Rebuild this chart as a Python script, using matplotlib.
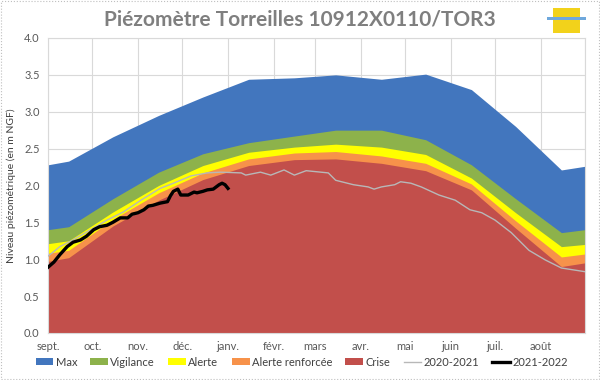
import matplotlib
matplotlib.use("Agg")
import matplotlib.pyplot as plt
from matplotlib.patches import Patch, Rectangle
from matplotlib.lines import Line2D
import pandas as pd

# ---------------- data ----------------
band_dates = ['2021-09-01', '2021-09-15', '2021-10-15', '2021-11-15', '2021-12-15',
              '2022-01-15', '2022-02-15', '2022-03-15', '2022-04-15', '2022-05-15',
              '2022-06-15', '2022-07-15', '2022-08-15', '2022-08-31']
max_vals = [2.28, 2.33, 2.66, 2.95, 3.20, 3.44, 3.46, 3.50, 3.44, 3.51, 3.30, 2.80, 2.21, 2.26]
vigilance = [1.40, 1.44, 1.82, 2.18, 2.43, 2.58, 2.67, 2.75, 2.75, 2.62, 2.28, 1.82, 1.36, 1.40]
alerte = [1.21, 1.25, 1.64, 2.00, 2.27, 2.45, 2.52, 2.56, 2.52, 2.42, 2.10, 1.63, 1.17, 1.20]
alerte_renf = [1.08, 1.12, 1.54, 1.90, 2.17, 2.36, 2.44, 2.46, 2.40, 2.30, 2.02, 1.52, 1.03, 1.07]
crise = [0.97, 1.02, 1.45, 1.80, 2.08, 2.27, 2.35, 2.36, 2.30, 2.20, 1.94, 1.42, 0.90, 0.95]

# 2020-2021 series: (day of hydrological year, level)
gray_days = [0, 5, 8, 17, 29, 40, 51, 63, 76, 85, 97, 108, 117, 131, 134, 144, 151, 160,
             167, 175, 190, 195, 207, 217, 221, 226, 235, 239, 246, 253, 265, 276, 286,
             294, 303, 314, 326, 337, 348, 364]
gray_vals = [1.04, 1.12, 1.17, 1.26, 1.40, 1.53, 1.64, 1.80, 1.96, 2.03, 2.13, 2.17, 2.18,
             2.17, 2.14, 2.18, 2.14, 2.21, 2.14, 2.20, 2.17, 2.07, 2.01, 1.98, 1.95, 1.98,
             2.01, 2.05, 2.03, 1.98, 1.87, 1.80, 1.67, 1.63, 1.53, 1.36, 1.12, 0.99, 0.88, 0.83]

# 2021-2022 series
black_days = [0, 4, 8, 13, 17, 22, 26, 31, 35, 40, 44, 49, 54, 57, 61, 65, 68, 71, 76, 81,
              83, 85, 88, 90, 95, 99, 101, 105, 108, 112, 116, 118, 120, 122]
black_vals = [0.89, 0.96, 1.06, 1.17, 1.23, 1.26, 1.31, 1.40, 1.44, 1.46, 1.50, 1.56, 1.56,
              1.61, 1.63, 1.67, 1.72, 1.73, 1.76, 1.78, 1.86, 1.92, 1.95, 1.87, 1.87, 1.91,
              1.90, 1.92, 1.94, 1.95, 2.01, 2.03, 2.01, 1.96]

month_labels = ['sept.', 'oct.', 'nov.', 'déc.', 'janv.', 'févr.', 'mars', 'avr.',
                'mai', 'juin', 'juil.', 'août']
month_starts = ['2021-09-01', '2021-10-01', '2021-11-01', '2021-12-01', '2022-01-01',
                '2022-02-01', '2022-03-01', '2022-04-01', '2022-05-01', '2022-06-01',
                '2022-07-01', '2022-08-01']

title = 'Piézomètre Torreilles 10912X0110/TOR3'
ylabel = 'Niveau piézométrique (en m NGF)'

# ---------------- plotting ----------------
origin = pd.Timestamp('2021-09-01')
bx = [(pd.Timestamp(d) - origin).days for d in band_dates]
mx = [(pd.Timestamp(d) - origin).days for d in month_starts]
season_end = (pd.Timestamp('2022-09-01') - origin).days - 1

plt.rcParams['font.family'] = ['Lato', 'DejaVu Sans']

fig = plt.figure(figsize=(6, 3.8), dpi=100)
ax = fig.add_axes([0.08, 0.124, 0.895, 0.776])

c_max = '#4276BE'
c_vig = '#8DB24B'
c_al = '#FFFF00'
c_ar = '#F7924A'
c_cr = '#C24F4B'

ax.set_axisbelow(True)
for vals, col in [(max_vals, c_max), (vigilance, c_vig), (alerte, c_al),
                  (alerte_renf, c_ar), (crise, c_cr)]:
    ax.fill_between(bx, 0, vals, color=col, linewidth=0, zorder=2)

ax.plot(gray_days, gray_vals, color='#B8B8B8', lw=1.0, zorder=3)
ax.plot(black_days, black_vals, color='black', lw=2.4, zorder=4)

ax.set_xlim(0, season_end)
ax.set_ylim(0, 4.0)
ax.set_yticks([i * 0.5 for i in range(9)])
ax.set_yticklabels([f'{i * 0.5:.1f}' for i in range(9)])
ax.set_xticks(mx + [season_end])
ax.set_xticklabels(month_labels + [''])
ax.grid(True, color='#D9D9D9', lw=0.8)
ax.tick_params(length=0, labelsize=8, colors='#595959', pad=6)
ax.tick_params(axis='x', pad=6)
for s in ax.spines.values():
    s.set_color('#D9D9D9')
    s.set_linewidth(0.8)

ax.set_ylabel(ylabel, fontsize=7.5, color='#404040', labelpad=6)
fig.text(0.5, 0.948, title, ha='center', va='center', fontsize=15, fontweight='bold',
         color='#7F7F7F')

# small logo placeholder
fig.patches.append(Rectangle((0.922, 0.913), 0.045, 0.066, transform=fig.transFigure,
                             facecolor='#F2D21B', edgecolor='none'))
fig.patches.append(Rectangle((0.912, 0.948), 0.064, 0.008, transform=fig.transFigure,
                             facecolor='#6FA8DC', edgecolor='none'))

handles = [Patch(facecolor=c_max), Patch(facecolor=c_vig), Patch(facecolor=c_al),
           Patch(facecolor=c_ar), Patch(facecolor=c_cr),
           Line2D([], [], color='#B8B8B8', lw=1.0),
           Line2D([], [], color='black', lw=2.4)]
labels = ['Max', 'Vigilance', 'Alerte', 'Alerte renforcée', 'Crise', '2020-2021', '2021-2022']
fig.legend(handles, labels, loc='center', bbox_to_anchor=(0.503, 0.047), ncol=7,
           frameon=False, fontsize=8, handlelength=1.6, handleheight=0.6,
           handletextpad=0.2, columnspacing=1.2, labelcolor='#404040')

# outer dotted border
fig.patches.append(Rectangle((0.002, 0.003), 0.996, 0.994, transform=fig.transFigure,
                             facecolor='none', edgecolor='#BFBFBF', lw=0.8, ls=':'))

fig.savefig('out.png', dpi=100)
